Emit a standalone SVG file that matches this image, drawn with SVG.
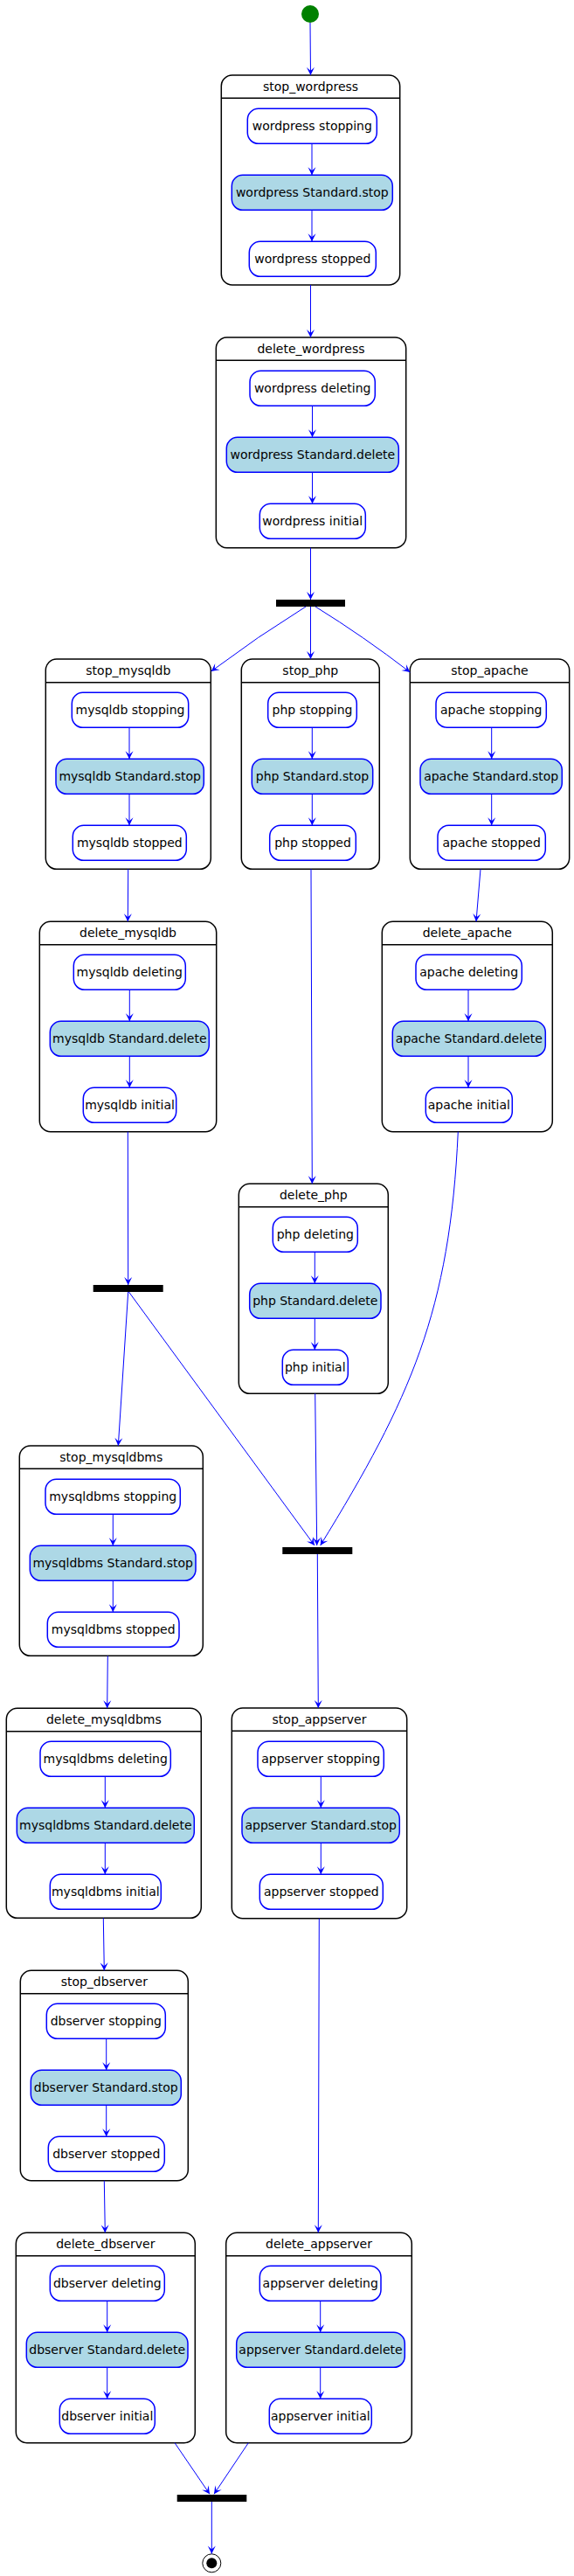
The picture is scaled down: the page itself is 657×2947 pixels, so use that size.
<svg xmlns="http://www.w3.org/2000/svg" width="657" height="2947" viewBox="0 0 657 2947">
<style>
.cl{fill:#fff;stroke:#000;stroke-width:1.5}
.hd{stroke:#000;stroke-width:1.5}
.nd{fill:#fff;stroke:#0000FF;stroke-width:1.5}
.ndf{fill:#ADD8E6;stroke:#0000FF;stroke-width:1.5}
.t{font-family:"DejaVu Sans",sans-serif;font-size:14px;fill:#000;text-anchor:middle}
.c{fill:none;stroke:#0000FF;stroke-width:1;marker-end:url(#ah)}
.bar{fill:#000}
</style>
<defs>
<marker id="ah" viewBox="-10 -5 11 10" refX="0" refY="0" markerWidth="11" markerHeight="10" markerUnits="userSpaceOnUse" orient="auto">
<path d="M0,0 L-9,-4.5 L-5,0 L-9,4.5 Z" fill="#0000FF"/>
</marker>
</defs>

<g id="start"><circle cx="355" cy="16" r="10" fill="#008000"/></g>

<g id="stop_wordpress">
<rect class="cl" x="253.3" y="86" width="204.4" height="240" rx="12.5"/>
<line class="hd" x1="253.3" y1="112.3" x2="457.7" y2="112.3"/>
<text class="t" x="355.5" y="104">stop_wordpress</text>
<rect class="nd" x="283.3" y="124.3" width="148" height="40" rx="12.5"/>
<text class="t" x="357.3" y="149.3">wordpress stopping</text>
<rect class="ndf" x="265.3" y="200.3" width="184" height="40" rx="12.5"/>
<text class="t" x="357.3" y="225.3">wordpress Standard.stop</text>
<rect class="nd" x="285.3" y="276.3" width="145" height="40" rx="12.5"/>
<text class="t" x="357.8" y="301.3">wordpress stopped</text>
</g>

<g id="delete_wordpress">
<rect class="cl" x="247.3" y="386" width="217.4" height="240.7" rx="12.5"/>
<line class="hd" x1="247.3" y1="412.3" x2="464.7" y2="412.3"/>
<text class="t" x="356" y="404">delete_wordpress</text>
<rect class="nd" x="286" y="424.3" width="143.3" height="40" rx="12.5"/>
<text class="t" x="357.7" y="449.3">wordpress deleting</text>
<rect class="ndf" x="259.3" y="500.3" width="197" height="40" rx="12.5"/>
<text class="t" x="357.8" y="525.3">wordpress Standard.delete</text>
<rect class="nd" x="297.3" y="576.3" width="121" height="40" rx="12.5"/>
<text class="t" x="357.8" y="601.3">wordpress initial</text>
</g>

<g id="fork1"><rect class="bar" x="316" y="686" width="79" height="8"/></g>

<g id="stop_mysqldb">
<rect class="cl" x="52.3" y="754" width="189" height="240.3" rx="12.5"/>
<line class="hd" x1="52.3" y1="780.7" x2="241.3" y2="780.7"/>
<text class="t" x="146.8" y="772">stop_mysqldb</text>
<rect class="nd" x="82.3" y="792.3" width="133.4" height="40" rx="12.5"/>
<text class="t" x="149" y="817.3">mysqldb stopping</text>
<rect class="ndf" x="64" y="868.3" width="169.3" height="40" rx="12.5"/>
<text class="t" x="148.7" y="893.3">mysqldb Standard.stop</text>
<rect class="nd" x="83.3" y="944.3" width="130" height="40" rx="12.5"/>
<text class="t" x="148.3" y="969.3">mysqldb stopped</text>
</g>

<g id="stop_php">
<rect class="cl" x="276.3" y="754" width="158" height="240.3" rx="12.5"/>
<line class="hd" x1="276.3" y1="780.7" x2="434.3" y2="780.7"/>
<text class="t" x="355.3" y="772">stop_php</text>
<rect class="nd" x="306.7" y="792.3" width="101.6" height="40" rx="12.5"/>
<text class="t" x="357.5" y="817.3">php stopping</text>
<rect class="ndf" x="288.3" y="868.3" width="138.4" height="40" rx="12.5"/>
<text class="t" x="357.5" y="893.3">php Standard.stop</text>
<rect class="nd" x="308.7" y="944.3" width="98.6" height="40" rx="12.5"/>
<text class="t" x="358" y="969.3">php stopped</text>
</g>

<g id="stop_apache">
<rect class="cl" x="469.3" y="754" width="182.4" height="240.3" rx="12.5"/>
<line class="hd" x1="469.3" y1="780.7" x2="651.7" y2="780.7"/>
<text class="t" x="560.5" y="772">stop_apache</text>
<rect class="nd" x="499" y="792.3" width="126.3" height="40" rx="12.5"/>
<text class="t" x="562.2" y="817.3">apache stopping</text>
<rect class="ndf" x="481" y="868.3" width="162.3" height="40" rx="12.5"/>
<text class="t" x="562.2" y="893.3">apache Standard.stop</text>
<rect class="nd" x="501" y="944.3" width="123.3" height="40" rx="12.5"/>
<text class="t" x="562.7" y="969.3">apache stopped</text>
</g>

<g id="delete_mysqldb">
<rect class="cl" x="45.3" y="1054.3" width="202.4" height="240.4" rx="12.5"/>
<line class="hd" x1="45.3" y1="1080.7" x2="247.7" y2="1080.7"/>
<text class="t" x="146.5" y="1072.3">delete_mysqldb</text>
<rect class="nd" x="84.3" y="1092.3" width="128" height="40" rx="12.5"/>
<text class="t" x="148.3" y="1117.3">mysqldb deleting</text>
<rect class="ndf" x="57.3" y="1168.3" width="182" height="40" rx="12.5"/>
<text class="t" x="148.3" y="1193.3">mysqldb Standard.delete</text>
<rect class="nd" x="95.3" y="1244.3" width="106.4" height="40" rx="12.5"/>
<text class="t" x="148.5" y="1269.3">mysqldb initial</text>
</g>

<g id="delete_apache">
<rect class="cl" x="437.3" y="1054.3" width="195" height="240.4" rx="12.5"/>
<line class="hd" x1="437.3" y1="1080.7" x2="632.3" y2="1080.7"/>
<text class="t" x="534.8" y="1072.3">delete_apache</text>
<rect class="nd" x="476" y="1092.3" width="121.3" height="40" rx="12.5"/>
<text class="t" x="536.7" y="1117.3">apache deleting</text>
<rect class="ndf" x="449.3" y="1168.3" width="175" height="40" rx="12.5"/>
<text class="t" x="536.8" y="1193.3">apache Standard.delete</text>
<rect class="nd" x="487.3" y="1244.3" width="99" height="40" rx="12.5"/>
<text class="t" x="536.8" y="1269.3">apache initial</text>
</g>

<g id="fork2"><rect class="bar" x="106.7" y="1470" width="80" height="8"/></g>

<g id="delete_php">
<rect class="cl" x="273.3" y="1354.3" width="171" height="240" rx="12.5"/>
<line class="hd" x1="273.3" y1="1380.7" x2="444.3" y2="1380.7"/>
<text class="t" x="358.8" y="1372.3">delete_php</text>
<rect class="nd" x="312.3" y="1392.3" width="97" height="40" rx="12.5"/>
<text class="t" x="360.8" y="1417.3">php deleting</text>
<rect class="ndf" x="285.7" y="1468.3" width="150.3" height="40" rx="12.5"/>
<text class="t" x="360.8" y="1493.3">php Standard.delete</text>
<rect class="nd" x="323.3" y="1544.3" width="75" height="40" rx="12.5"/>
<text class="t" x="360.8" y="1569.3">php initial</text>
</g>

<g id="stop_mysqldbms">
<rect class="cl" x="22.3" y="1654" width="210" height="240.3" rx="12.5"/>
<line class="hd" x1="22.3" y1="1680.3" x2="232.3" y2="1680.3"/>
<text class="t" x="127.3" y="1672">stop_mysqldbms</text>
<rect class="nd" x="52" y="1692.3" width="154.3" height="40" rx="12.5"/>
<text class="t" x="129.2" y="1717.3">mysqldbms stopping</text>
<rect class="ndf" x="34.3" y="1768.3" width="189.7" height="40" rx="12.5"/>
<text class="t" x="129.2" y="1793.3">mysqldbms Standard.stop</text>
<rect class="nd" x="54.3" y="1844.3" width="150.7" height="40" rx="12.5"/>
<text class="t" x="129.7" y="1869.3">mysqldbms stopped</text>
</g>

<g id="join1"><rect class="bar" x="323.3" y="1770" width="80" height="8"/></g>

<g id="stop_appserver">
<rect class="cl" x="265.3" y="1954" width="200.4" height="240.7" rx="12.5"/>
<line class="hd" x1="265.3" y1="1980.3" x2="465.7" y2="1980.3"/>
<text class="t" x="365.5" y="1972">stop_appserver</text>
<rect class="nd" x="295" y="1992.3" width="144.3" height="40" rx="12.5"/>
<text class="t" x="367.2" y="2017.3">appserver stopping</text>
<rect class="ndf" x="277" y="2068.3" width="180.3" height="40" rx="12.5"/>
<text class="t" x="367.2" y="2093.3">appserver Standard.stop</text>
<rect class="nd" x="297.3" y="2144.3" width="141" height="40" rx="12.5"/>
<text class="t" x="367.8" y="2169.3">appserver stopped</text>
</g>

<g id="delete_mysqldbms">
<rect class="cl" x="7.3" y="1954.3" width="223" height="240" rx="12.5"/>
<line class="hd" x1="7.3" y1="1980.7" x2="230.3" y2="1980.7"/>
<text class="t" x="118.8" y="1972.3">delete_mysqldbms</text>
<rect class="nd" x="46" y="1992.3" width="149.3" height="40" rx="12.5"/>
<text class="t" x="120.7" y="2017.3">mysqldbms deleting</text>
<rect class="ndf" x="19.3" y="2068.3" width="203" height="40" rx="12.5"/>
<text class="t" x="120.8" y="2093.3">mysqldbms Standard.delete</text>
<rect class="nd" x="57.3" y="2144.3" width="127" height="40" rx="12.5"/>
<text class="t" x="120.8" y="2169.3">mysqldbms initial</text>
</g>

<g id="stop_dbserver">
<rect class="cl" x="23.3" y="2254.3" width="192" height="240.4" rx="12.5"/>
<line class="hd" x1="23.3" y1="2280.7" x2="215.3" y2="2280.7"/>
<text class="t" x="119.3" y="2272.3">stop_dbserver</text>
<rect class="nd" x="53.3" y="2292.3" width="136" height="40" rx="12.5"/>
<text class="t" x="121.3" y="2317.3">dbserver stopping</text>
<rect class="ndf" x="35.3" y="2368.3" width="172" height="40" rx="12.5"/>
<text class="t" x="121.3" y="2393.3">dbserver Standard.stop</text>
<rect class="nd" x="55.3" y="2444.3" width="133" height="40" rx="12.5"/>
<text class="t" x="121.8" y="2469.3">dbserver stopped</text>
</g>

<g id="delete_dbserver">
<rect class="cl" x="18.3" y="2554.3" width="205" height="240.4" rx="12.5"/>
<line class="hd" x1="18.3" y1="2580.7" x2="223.3" y2="2580.7"/>
<text class="t" x="120.8" y="2572.3">delete_dbserver</text>
<rect class="nd" x="57.3" y="2592.3" width="131" height="40" rx="12.5"/>
<text class="t" x="122.8" y="2617.3">dbserver deleting</text>
<rect class="ndf" x="30.3" y="2668.3" width="184.7" height="40" rx="12.5"/>
<text class="t" x="122.7" y="2693.3">dbserver Standard.delete</text>
<rect class="nd" x="68.3" y="2744.3" width="109" height="40" rx="12.5"/>
<text class="t" x="122.8" y="2769.3">dbserver initial</text>
</g>

<g id="delete_appserver">
<rect class="cl" x="258.7" y="2554.3" width="212.6" height="240.4" rx="12.5"/>
<line class="hd" x1="258.7" y1="2580.7" x2="471.3" y2="2580.7"/>
<text class="t" x="365" y="2572.3">delete_appserver</text>
<rect class="nd" x="297.3" y="2592.3" width="138.7" height="40" rx="12.5"/>
<text class="t" x="366.7" y="2617.3">appserver deleting</text>
<rect class="ndf" x="270.7" y="2668.3" width="192.6" height="40" rx="12.5"/>
<text class="t" x="367" y="2693.3">appserver Standard.delete</text>
<rect class="nd" x="308.3" y="2744.3" width="117" height="40" rx="12.5"/>
<text class="t" x="366.8" y="2769.3">appserver initial</text>
</g>

<g id="join2"><rect class="bar" x="202.7" y="2854" width="79.6" height="8"/></g>

<g id="end">
<circle cx="242.3" cy="2932.3" r="10.5" fill="#fff" stroke="#000" stroke-width="1"/>
<circle cx="242.3" cy="2932.3" r="6" fill="#000"/>
</g>

<g id="connectors">
<path class="c" d="M355,26 L355.5,86"/>
<path class="c" d="M357,164.3 L357,200.3"/>
<path class="c" d="M357,240.3 L357,276.3"/>
<path class="c" d="M355.5,326 L355.5,386"/>
<path class="c" d="M357.5,464.3 L357.5,500.3"/>
<path class="c" d="M357.5,540.3 L357.5,576.3"/>
<path class="c" d="M355.5,626.7 L355.5,686"/>
<path class="c" d="M350,694 Q295,728 241.7,768"/>
<path class="c" d="M355.5,694 L355.5,754"/>
<path class="c" d="M361,694 Q416,728 469.3,769"/>
<path class="c" d="M148,832.3 L148,868.3"/>
<path class="c" d="M148,908.3 L148,944.3"/>
<path class="c" d="M357.3,832.3 L357.3,868.3"/>
<path class="c" d="M357.3,908.3 L357.3,944.3"/>
<path class="c" d="M562.7,832.3 L562.7,868.3"/>
<path class="c" d="M562.7,908.3 L562.7,944.3"/>
<path class="c" d="M146.7,994.3 L146.3,1054.3"/>
<path class="c" d="M356,994.3 L357.3,1354.3"/>
<path class="c" d="M550,994.3 L545,1054.3"/>
<path class="c" d="M148.3,1132.3 L148.3,1168.3"/>
<path class="c" d="M148.3,1208.3 L148.3,1244.3"/>
<path class="c" d="M536,1132.3 L536,1168.3"/>
<path class="c" d="M536,1208.3 L536,1244.3"/>
<path class="c" d="M146.3,1294.7 L146.7,1470"/>
<path class="c" d="M360.3,1432.3 L360.3,1468.3"/>
<path class="c" d="M360.3,1508.3 L360.3,1544.3"/>
<path class="c" d="M146.7,1478 L135.3,1654"/>
<path class="c" d="M147.5,1478 L360,1768"/>
<path class="c" d="M360.7,1594.3 L362.7,1768"/>
<path class="c" d="M524.3,1294.7 C515,1500 470,1600 366.7,1768"/>
<path class="c" d="M129.3,1732.3 L129.3,1768.3"/>
<path class="c" d="M129.3,1808.3 L129.3,1844.3"/>
<path class="c" d="M363.3,1778 L364.3,1954"/>
<path class="c" d="M367.3,2032.3 L367.3,2068.3"/>
<path class="c" d="M367.3,2108.3 L367.3,2144.3"/>
<path class="c" d="M123.3,1894.3 L122.7,1954.3"/>
<path class="c" d="M120.3,2032.3 L120.3,2068.3"/>
<path class="c" d="M120.3,2108.3 L120.3,2144.3"/>
<path class="c" d="M118.3,2194.3 L119.3,2254.3"/>
<path class="c" d="M121.7,2332.3 L121.7,2368.3"/>
<path class="c" d="M121.7,2408.3 L121.7,2444.3"/>
<path class="c" d="M119.3,2494.7 L120.3,2554.3"/>
<path class="c" d="M365.3,2194.7 L364.3,2554.3"/>
<path class="c" d="M122.7,2632.3 L122.7,2668.3"/>
<path class="c" d="M122.7,2708.3 L122.7,2744.3"/>
<path class="c" d="M366.7,2632.3 L366.7,2668.3"/>
<path class="c" d="M366.7,2708.3 L366.7,2744.3"/>
<path class="c" d="M200,2794.7 L240,2853.3"/>
<path class="c" d="M284.3,2794.7 L245,2853.3"/>
<path class="c" d="M242.3,2862 L242.3,2921.5"/>
</g>
</svg>
